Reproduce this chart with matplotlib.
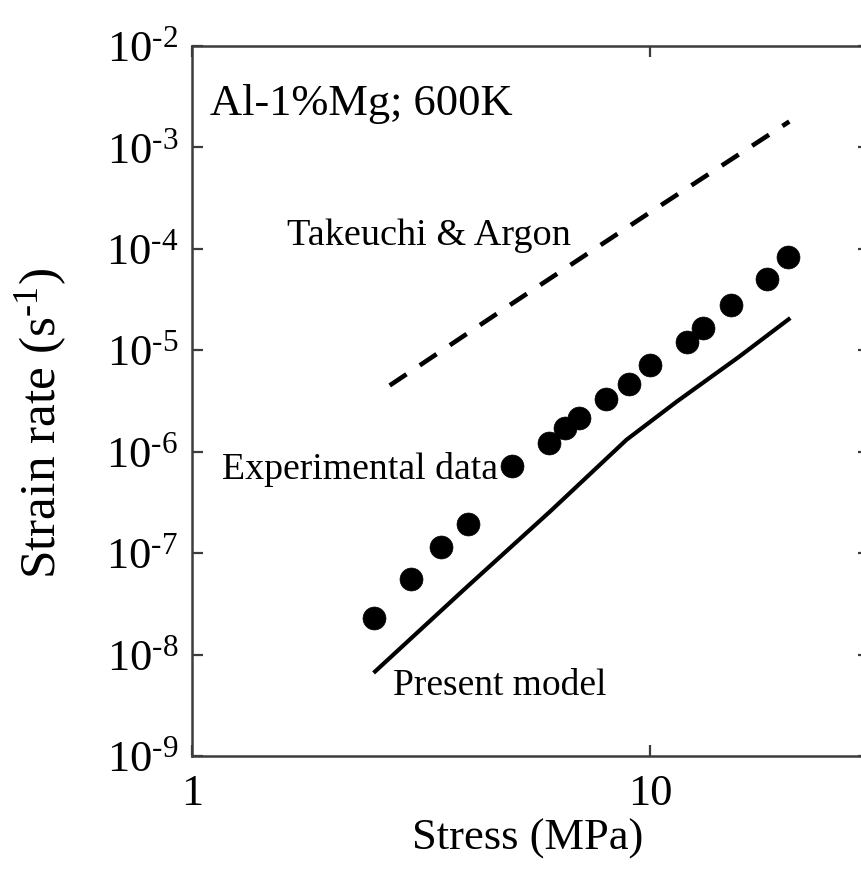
import matplotlib

matplotlib.use("Agg")

import matplotlib.pyplot as plt
import numpy as np
from matplotlib.ticker import FuncFormatter, LogLocator, NullLocator

plt.rcParams["font.family"] = ["Liberation Serif", "DejaVu Serif"]
plt.rcParams["mathtext.fontset"] = "custom"
plt.rcParams["mathtext.rm"] = "Liberation Serif"
plt.rcParams["mathtext.it"] = "Liberation Serif:italic"
plt.rcParams["mathtext.bf"] = "Liberation Serif:bold"

# Experimental creep data, Al-1%Mg at 600 K
EXP_STRESS = [2.5, 3.0, 3.5, 4.0, 5.0, 6.0, 6.5, 7.0, 8.0, 9.0, 10.0, 12.0, 13.0, 15.0, 18.0, 20.0]
EXP_RATE = [2.3e-8, 5.6e-8, 1.15e-7, 1.95e-7, 7.2e-7, 1.22e-6, 1.7e-6, 2.15e-6,
            3.3e-6, 4.65e-6, 7.2e-6, 1.21e-5, 1.66e-5, 2.8e-5, 5.0e-5, 8.3e-5]

# Present model prediction
MODEL_STRESS = [2.49, 3.97, 6.03, 8.87, 11.4, 15.6, 20.2]
MODEL_RATE = [6.6e-9, 4.6e-8, 2.55e-7, 1.31e-6, 3.1e-6, 8.6e-6, 2.08e-5]

# Takeuchi & Argon prediction
TA_STRESS = [2.7, 5.0, 10.0, 20.1]
TA_RATE = [4.5e-6, 2.9e-5, 2.3e-4, 1.8e-3]

INK = "black"
FRAME = "#3c3c3c"
HYPHEN = "\u2010"


def x_label(value, pos):
    return f"{value:g}"


def y_label(value, pos):
    exponent = int(round(np.log10(value)))
    sign = HYPHEN if exponent < 0 else ""
    return f"$10^{{{sign}{abs(exponent)}}}$"


fig = plt.figure(figsize=(8.62, 8.84), dpi=100)
ax = fig.add_axes([192 / 862, 128 / 884, 677 / 862, 710 / 884])

ax.set_xscale("log")
ax.set_yscale("log")
ax.set_xlim(1, 30)
ax.set_ylim(1e-9, 1e-2)

ax.plot(TA_STRESS, TA_RATE, color=INK, lw=3.3, dashes=(4.4, 3.5), solid_capstyle="butt")
ax.plot(MODEL_STRESS, MODEL_RATE, color=INK, lw=3.0, solid_capstyle="butt")
ax.plot(EXP_STRESS, EXP_RATE, "o", color=INK, ms=16.5, mec=INK, mew=0.5)

ax.xaxis.set_major_locator(LogLocator(base=10, numticks=10))
ax.yaxis.set_major_locator(LogLocator(base=10, numticks=12))
ax.xaxis.set_minor_locator(NullLocator())
ax.yaxis.set_minor_locator(NullLocator())
ax.xaxis.set_major_formatter(FuncFormatter(x_label))
ax.yaxis.set_major_formatter(FuncFormatter(y_label))
ax.tick_params(which="major", direction="in", length=8, width=1.6, color=FRAME,
               top=True, right=True, labelsize=32)
ax.tick_params(axis="y", pad=10)
ax.tick_params(axis="x", pad=13)
for side in ax.spines.values():
    side.set_color(FRAME)
    side.set_linewidth(1.8)

ax.text(0.027, 0.903, "Al-1%Mg; 600K", transform=ax.transAxes,
        fontsize=32, va="baseline", ha="left")
ax.text(0.140, 0.720, "Takeuchi & Argon", transform=ax.transAxes,
        fontsize=27.5, va="baseline", ha="left")
ax.text(0.452, 0.390, "Experimental data", transform=ax.transAxes,
        fontsize=27.2, va="baseline", ha="right")
ax.text(0.297, 0.086, "Present model", transform=ax.transAxes,
        fontsize=27, va="baseline", ha="left")

fig.text(528 / 862, 34 / 884, "Stress (MPa)", fontsize=32, ha="center", va="baseline")
fig.text(41 / 862, 460 / 884, "Strain rate (s$^{" + HYPHEN + "1}$)", fontsize=37,
         rotation=90, ha="center", va="center")

fig.savefig("out.png", dpi=100, facecolor="white")
